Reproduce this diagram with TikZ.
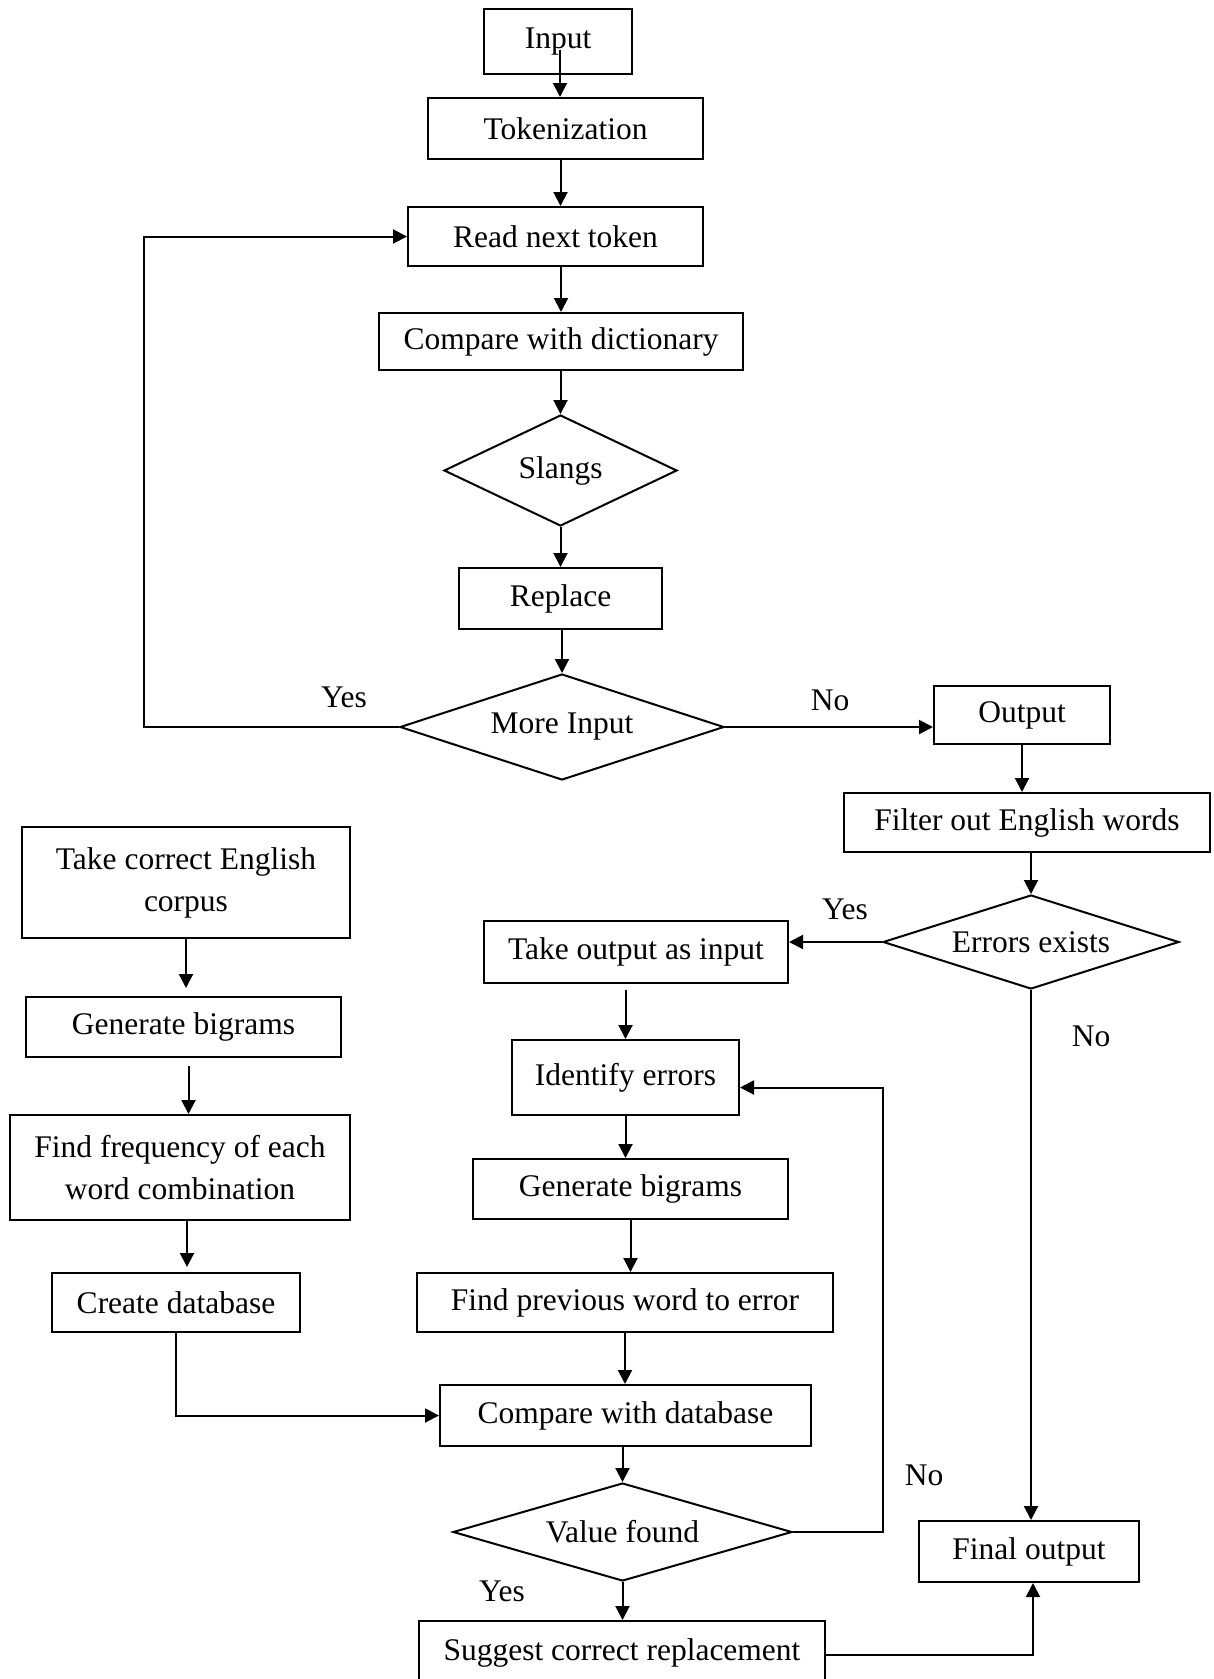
\documentclass[tikz,border=0pt]{standalone}
\usepackage{fontspec}
\setmainfont{Liberation Serif}
\usetikzlibrary{shapes.geometric,arrows.meta}
\begin{document}
\begin{tikzpicture}[x=1pt,y=-1pt,
  every node/.style={font=\fontsize{31.5pt}{42pt}\selectfont},
  box/.style={draw, line width=2pt, rectangle, inner sep=0pt, align=center},
  dia/.style={draw, line width=2pt, diamond, inner sep=0pt, align=center},
  arr/.style={line width=2pt, -{Triangle[length=14pt,width=14pt]}},
  lbl/.style={inner sep=0pt}]
\useasboundingbox (0,0) rectangle (1214,1679);
\fill[white] (0,0) rectangle (1214,1679);
% top column
\node[box, minimum width=148pt, minimum height=65pt] (input) at (558,41.5) {Input};
\node[box, minimum width=275pt, minimum height=61pt] (tok) at (565.5,128.5) {Tokenization};
\node[box, minimum width=295pt, minimum height=59pt] (read) at (555.5,236.5) {Read next token};
\node[box, minimum width=364pt, minimum height=57pt] (cmpd) at (561,341.5) {Compare with dictionary};
\node[dia, minimum width=233pt, minimum height=111pt, aspect=2.1] (slangs) at (560.5,470.5) {Slangs};
\node[box, minimum width=203pt, minimum height=61pt] (replace) at (560.5,598.5) {Replace};
\node[dia, minimum width=324pt, minimum height=106pt, aspect=3] (more) at (562,727) {More Input};
% right column
\node[box, minimum width=176pt, minimum height=58pt] (output) at (1022,715) {Output};
\node[box, minimum width=366pt, minimum height=59pt] (filter) at (1027,822.5) {Filter out English words};
\node[dia, minimum width=296pt, minimum height=94pt, aspect=3.15] (errors) at (1031,942) {Errors exists};
\node[box, minimum width=220pt, minimum height=61pt] (final) at (1029,1551.5) {Final output};
% middle column
\node[box, minimum width=304pt, minimum height=62pt] (takeout) at (636,952) {Take output as input};
\node[box, minimum width=227pt, minimum height=75pt] (identify) at (625.5,1077.5) {Identify errors};
\node[box, minimum width=315pt, minimum height=60pt] (gen2) at (630.5,1189) {Generate bigrams};
\node[box, minimum width=416pt, minimum height=59pt] (findprev) at (625,1302.5) {Find previous word to error};
\node[box, minimum width=371pt, minimum height=61pt] (cmpdb) at (625.5,1415.5) {Compare with database};
\node[dia, minimum width=339pt, minimum height=98pt, aspect=3.46] (value) at (622.5,1532) {Value found};
\node[box, minimum width=406pt, minimum height=64pt] (suggest) at (622,1653) {Suggest correct replacement};
% left column
\node[box, minimum width=328pt, minimum height=111pt] (corpus) at (186,882.5) {Take correct English\\corpus};
\node[box, minimum width=315pt, minimum height=60pt] (gen1) at (183.5,1027) {Generate bigrams};
\node[box, minimum width=340pt, minimum height=105pt] (freq) at (180,1167.5) {Find frequency of each\\word combination};
\node[box, minimum width=248pt, minimum height=59pt] (createdb) at (176,1302.5) {Create database};
% labels
\node[lbl] (yes1) at (344,697) {Yes};
\node[lbl] (no1) at (830,700) {No};
\node[lbl] (yes2) at (845,909) {Yes};
\node[lbl] (no2) at (1091,1036) {No};
\node[lbl] (no3) at (924,1475) {No};
\node[lbl] (yes3) at (502,1591) {Yes};
% connectors
\draw[arr] (input.center) ++(2,8) -- ([xshift=2pt]input.center |- tok.north);
\draw[arr] ([xshift=-5pt]tok.south) -- ([xshift=-5pt]tok.south |- read.north);
\draw[arr] (read.south -| cmpd.north) -- (cmpd.north);
\draw[arr] (cmpd.south -| slangs.north) -- (slangs.north);
\draw[arr] (slangs.south) -- (slangs.south |- replace.north);
\draw[arr] (replace.south -| more.north) -- (more.north);
\draw[arr] (more.west) -- ++(-255,0) |- (read.west);
\draw[arr] (more.east) -- (more.east -| output.west);
\draw[arr] (output.south) -- (output.south |- filter.north);
\draw[arr] (filter.south -| errors.north) -- (errors.north);
\draw[arr] (errors.west) -- (errors.west -| takeout.east);
\draw[arr] (takeout.south -| identify.north) ++(0,6) -- (identify.north);
\draw[arr] (identify.south) -- (identify.south |- gen2.north);
\draw[arr] (gen2.south) -- (gen2.south |- findprev.north);
\draw[arr] (findprev.south) -- (findprev.south |- cmpdb.north);
\draw[arr] (cmpdb.south -| value.north) -- (value.north);
\draw[arr] (value.east) -- ++(90,0) |- ([yshift=-10pt]identify.east);
\draw[arr] (value.south) -- (value.south |- suggest.north);
\draw[arr] ([yshift=-2pt]suggest.east) -| ([xshift=4pt]final.south);
\draw[arr] (errors.south) -- (errors.south |- final.north);
\draw[arr, shorten >=8pt] (corpus.south) -- (corpus.south |- gen1.north);
\draw[arr] ([xshift=5pt]gen1.south) ++(0,8) -- ([xshift=5pt]gen1.south |- freq.north);
\draw[arr, shorten >=5pt] ([xshift=7pt]freq.south) -- ([xshift=7pt]freq.south |- createdb.north);
\draw[arr] (createdb.south) |- (cmpdb.west);
\end{tikzpicture}
\end{document}
